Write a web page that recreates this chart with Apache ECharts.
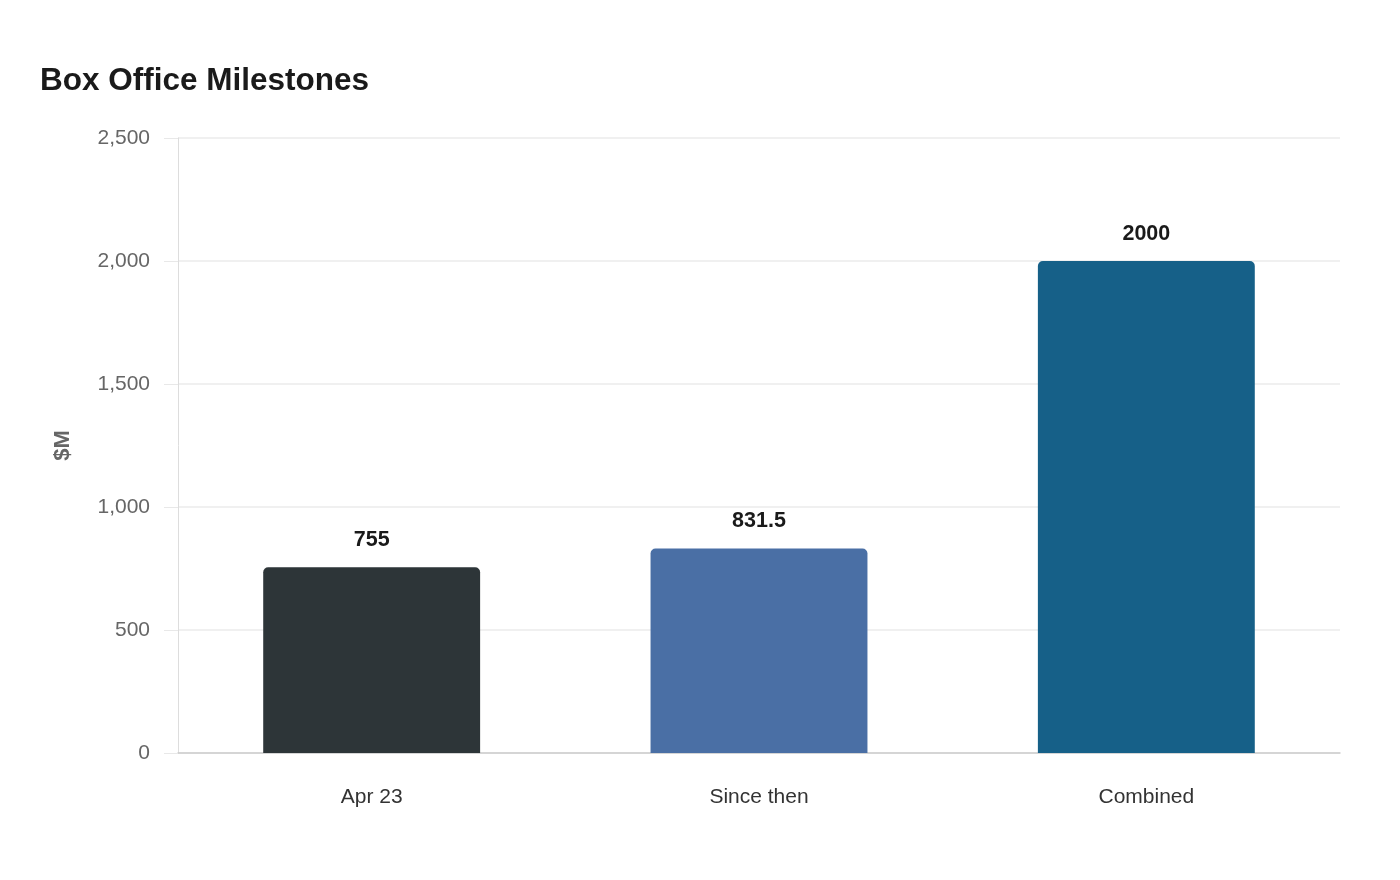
<!DOCTYPE html>
<html>
<head>
<meta charset="utf-8">
<script src="https://cdn.jsdelivr.net/npm/echarts@6/dist/echarts.min.js"></script>
<style>html,body{margin:0;padding:0;background:#fff;}#c{width:1400px;height:880px;}</style>
</head>
<body>
<div id="c"></div>
<script>
var categories = ["Apr 23", "Since then", "Combined"];
var values = [755, 831.5, 2000];
var barColors = ["#2d3538", "#4a6fa5", "#166088"];
var yTicks = [0, 500, 1000, 1500, 2000, 2500];

var FONT = "'Liberation Sans', Arial, sans-serif";
var chart = echarts.init(document.getElementById('c'));
chart.setOption({
  backgroundColor: '#ffffff',
  animation: false,
  title: {
    text: 'Box Office Milestones',
    left: 40, top: 65, padding: 0,
    textStyle: { fontFamily: FONT, fontSize: 31.5, fontWeight: 'bold', color: '#1a1a1a' }
  },
  grid: { left: 178, right: 60, top: 138, bottom: 127 },
  xAxis: {
    type: 'category',
    data: categories,
    axisLine: { show: true, lineStyle: { color: '#cccccc', width: 1.5 } },
    axisTick: { show: false },
    axisLabel: { fontFamily: FONT, fontSize: 21, color: '#333333', margin: 34 }
  },
  yAxis: {
    type: 'value',
    min: yTicks[0], max: yTicks[yTicks.length - 1], interval: 500,
    name: '$M',
    nameLocation: 'middle',
    nameGap: 104,
    nameTextStyle: { fontFamily: FONT, fontSize: 22, fontWeight: 'bold', color: '#666666' },
    axisLine: { show: true, lineStyle: { color: '#dddddd', width: 1 } },
    axisTick: { show: true, length: 14, lineStyle: { color: '#e8e8e8' } },
    splitLine: { show: true, lineStyle: { color: '#ebebeb', width: 1.5 } },
    axisLabel: {
      fontFamily: FONT, fontSize: 21, color: '#666666', margin: 28,
      formatter: function (v) { return v.toLocaleString('en-US'); }
    }
  },
  series: [{
    type: 'bar',
    data: values.map(function (v, i) { return { value: v, itemStyle: { color: barColors[i] } }; }),
    barWidth: '56%',
    itemStyle: { borderRadius: [5, 5, 0, 0] },
    label: {
      show: true, position: 'top', distance: 16,
      fontFamily: FONT, fontSize: 21.5, fontWeight: 'bold', color: '#1a1a1a'
    }
  }]
});
</script>
</body>
</html>
